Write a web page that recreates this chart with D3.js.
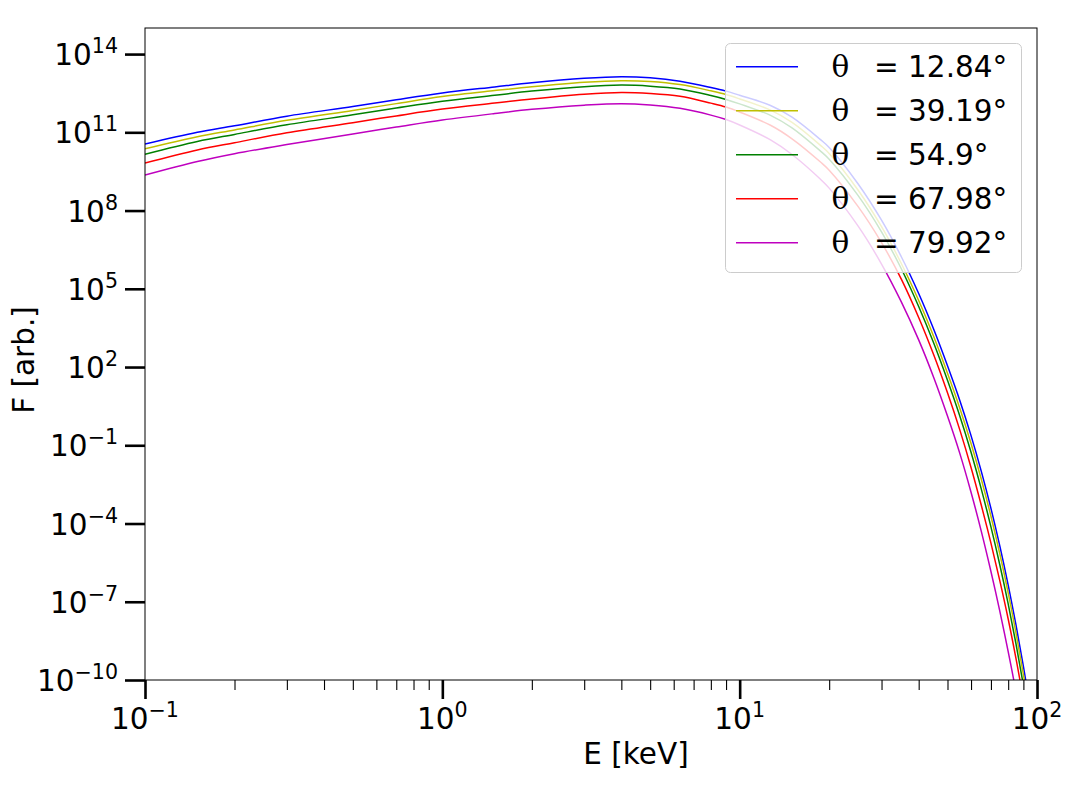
<!DOCTYPE html>
<html>
<head>
<meta charset="utf-8">
<script src="https://cdn.jsdelivr.net/npm/d3@7"></script>
<style>
  body { margin: 0; background: #fff; }
  text { font-family: "DejaVu Sans", sans-serif; fill: #000; }
</style>
</head>
<body>
<div id="chart"></div>
<script>
// energies in keV, values are log10 F
const energy = [0.1, 0.15, 0.2, 0.3, 0.5, 0.7, 1, 1.5, 2, 3, 4, 5, 6.3, 8, 9, 10, 12.7, 15, 18.7, 20,
  25, 30, 35, 40, 45, 50, 55, 60, 65, 70, 75, 80, 85, 90, 95];

const logF_1284 = [10.55, 11.0, 11.25, 11.62, 11.99, 12.25, 12.51, 12.74, 12.90, 13.07, 13.13, 13.09, 12.96, 12.72, 12.58, 12.42, 12.03, 11.58, 10.72, 10.42,
  9.03, 7.63, 6.22, 4.82, 3.43, 2.05, 0.72, -0.63, -2.01, -3.42, -4.87, -6.36, -7.9, -9.48, -11.1];
const logF_3919 = [10.37, 10.83, 11.09, 11.46, 11.84, 12.10, 12.37, 12.60, 12.75, 12.92, 12.98, 12.95, 12.83, 12.59, 12.45, 12.28, 11.85, 11.38, 10.50, 10.19,
  8.79, 7.38, 5.96, 4.55, 3.15, 1.76, 0.42, -0.93, -2.31, -3.72, -5.17, -6.66, -8.2, -9.78, -11.4];
const logF_549 = [10.16, 10.65, 10.92, 11.29, 11.67, 11.93, 12.19, 12.42, 12.58, 12.75, 12.81, 12.77, 12.66, 12.41, 12.26, 12.09, 11.65, 11.17, 10.28, 9.97,
  8.58, 7.18, 5.76, 4.32, 2.90, 1.49, 0.12, -1.27, -2.69, -4.13, -5.59, -7.08, -8.62, -10.2, -11.82];
const logF_6798 = [9.82, 10.32, 10.6, 10.98, 11.37, 11.63, 11.89, 12.12, 12.28, 12.46, 12.53, 12.49, 12.38, 12.12, 11.97, 11.78, 11.27, 10.75, 9.86, 9.55,
  8.16, 6.77, 5.36, 3.90, 2.45, 1.01, -0.41, -1.85, -3.31, -4.75, -6.2, -7.66, -9.18, -10.73, -12.35];
const logF_7992 = [9.36, 9.88, 10.18, 10.53, 10.94, 11.20, 11.47, 11.72, 11.88, 12.04, 12.10, 12.05, 11.92, 11.66, 11.49, 11.28, 10.71, 10.15, 9.20, 8.86,
  7.41, 5.95, 4.49, 3.04, 1.58, 0.12, -1.31, -2.80, -4.31, -5.84, -7.37, -8.91, -10.45, -12.03, -13.65];

const angles = ["12.84", "39.19", "54.9", "67.98", "79.92"];
const colors = ["#0000ff", "#bfbf00", "#008000", "#ff0000", "#bf00bf"];
const seriesValues = [logF_1284, logF_3919, logF_549, logF_6798, logF_7992];

const xTickExp = [-1, 0, 1, 2];
const yTickExp = [-10, -7, -4, -1, 2, 5, 8, 11, 14];

const W = 1073, H = 788;
const margin = { top: 28, right: 36, bottom: 108, left: 145 };
const fontSize = 29.5, supSize = 20.6;

const svg = d3.select("#chart").append("svg")
  .attr("width", W)
  .attr("height", H);

const x = d3.scaleLog().domain([0.1, 100]).range([margin.left, W - margin.right]);
const y = d3.scaleLog().domain([1e-10, 1e15]).range([H - margin.bottom, margin.top]);

svg.append("clipPath").attr("id", "plotclip")
  .append("rect")
  .attr("x", margin.left).attr("y", margin.top)
  .attr("width", W - margin.left - margin.right)
  .attr("height", H - margin.top - margin.bottom);

// curves
const line = d3.line()
  .x(d => x(d[0]))
  .y(d => y(Math.pow(10, d[1])))
  .curve(d3.curveCatmullRom.alpha(0.5));

seriesValues.forEach((vals, i) => {
  const pts = energy.map((e, j) => [e, vals[j]]);
  svg.append("path")
    .datum(pts)
    .attr("clip-path", "url(#plotclip)")
    .attr("fill", "none")
    .attr("stroke", colors[i])
    .attr("stroke-width", 1.5)
    .attr("d", line);
});

// frame
svg.append("rect")
  .attr("x", margin.left).attr("y", margin.top)
  .attr("width", W - margin.left - margin.right)
  .attr("height", H - margin.top - margin.bottom)
  .attr("fill", "none")
  .attr("stroke", "#000")
  .attr("stroke-width", 1);

// x ticks
const xMajor = xTickExp.map(e => Math.pow(10, e));
const xMinor = x.ticks().filter(v => !xMajor.some(m => Math.abs(m - v) / m < 1e-6));

const gxMinor = svg.append("g")
  .attr("transform", `translate(0,${H - margin.bottom})`)
  .call(d3.axisBottom(x).tickValues(xMinor).tickSize(10).tickFormat(""));
gxMinor.select(".domain").remove();
gxMinor.selectAll("line").attr("stroke-width", 1.1);

const gxMajor = svg.append("g")
  .attr("transform", `translate(0,${H - margin.bottom})`)
  .call(d3.axisBottom(x).tickValues(xMajor).tickSize(19).tickFormat(""));
gxMajor.select(".domain").remove();
gxMajor.selectAll("line").attr("stroke-width", 2.6);

function supLabel(t, e) {
  t.append("tspan").text("10");
  t.append("tspan").attr("dy", -12).style("font-size", supSize + "px")
    .text(e < 0 ? "\u2212" + Math.abs(e) : String(e));
}

xTickExp.forEach(e => {
  const t = svg.append("text")
    .attr("x", x(Math.pow(10, e)))
    .attr("y", 729)
    .attr("text-anchor", "middle")
    .style("font-size", fontSize + "px");
  supLabel(t, e);
});

// y ticks
const yMajor = yTickExp.map(e => Math.pow(10, e));
const gy = svg.append("g")
  .attr("transform", `translate(${margin.left},0)`)
  .call(d3.axisLeft(y).tickValues(yMajor).tickSize(20).tickFormat(""));
gy.select(".domain").remove();
gy.selectAll("line").attr("stroke-width", 2.6);

yTickExp.forEach(e => {
  const t = svg.append("text")
    .attr("x", 118)
    .attr("y", y(Math.pow(10, e)) + 11)
    .attr("text-anchor", "end")
    .style("font-size", fontSize + "px");
  supLabel(t, e);
});

// axis labels
svg.append("text")
  .attr("x", 636)
  .attr("y", 764)
  .attr("text-anchor", "middle")
  .style("font-size", fontSize + "px")
  .text("E [keV]");

svg.append("text")
  .attr("transform", "translate(34,360) rotate(-90)")
  .attr("text-anchor", "middle")
  .style("font-size", fontSize + "px")
  .text("F [arb.]");

// legend
const legend = svg.append("g");
legend.append("rect")
  .attr("x", 725.5).attr("y", 43.5)
  .attr("width", 296).attr("height", 229)
  .attr("rx", 5)
  .attr("fill", "#fff")
  .attr("fill-opacity", 0.8)
  .attr("stroke", "#cccccc")
  .attr("stroke-width", 1);

angles.forEach((a, i) => {
  const cy = 66.7 + i * 44;
  legend.append("line")
    .attr("x1", 736).attr("x2", 798)
    .attr("y1", cy).attr("y2", cy)
    .attr("stroke", colors[i])
    .attr("stroke-width", 1.5);
  legend.append("text")
    .attr("x", 831.5)
    .attr("y", cy + 10.5)
    .style("font-family", "'DejaVu Serif', serif")
    .style("font-size", fontSize + "px")
    .text("\u03b8");
  legend.append("text")
    .attr("x", 874)
    .attr("y", cy + 10.5)
    .style("font-size", fontSize + "px")
    .text("= " + a + "\u00b0");
});
</script>
</body>
</html>
